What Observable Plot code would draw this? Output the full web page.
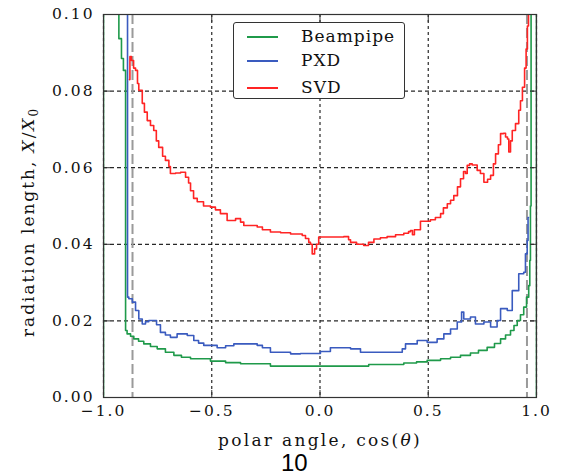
<!DOCTYPE html>
<html><head><meta charset="utf-8">
<script src="https://cdn.jsdelivr.net/npm/d3@7"></script>
<script src="https://cdn.jsdelivr.net/npm/@observablehq/plot@0.6"></script>
<style>
body{margin:0;background:#fff;}
#wrap{position:relative;width:565px;height:476px;overflow:hidden;}
#wrap svg{display:block;}
.caption{font-family:"Liberation Sans",Arial,sans-serif;font-size:24px;line-height:26px;height:26px;padding-left:281px;color:#000;}
.legend{position:absolute;left:233px;top:22px;width:170px;height:75px;border:1.5px solid #333;border-radius:3px;background:#fff;}
.legend .sw{position:absolute;left:13px;width:31px;height:0;border-top:2px solid;}
.legend .lb{position:absolute;left:67px;font-family:"DejaVu Serif","Liberation Serif",serif;font-size:17px;letter-spacing:1px;line-height:20px;color:#111;}
</style></head><body><div id="wrap"></div>
<script>
// ---- data ----
const seriesNames = ["Beampipe", "PXD", "SVD"];
const seriesColors = ["#1f9a4a", "#3a5bbf", "#ff2424"];

const beampipeX = [-1, -1, -0.929, -0.917, -0.908, -0.898, -0.891, -0.875, -0.860, -0.838, -0.814, -0.783, -0.752, -0.714, -0.675, -0.640, -0.598, -0.506, -0.436, -0.367, -0.229, 0.225, 0.387, 0.446, 0.495, 0.557, 0.603, 0.649, 0.695, 0.732, 0.772, 0.806, 0.834, 0.857, 0.880, 0.896, 0.911, 0.926, 0.941, 0.954, 0.964, 0.969, 0.972, 0.975, 1.0];
const beampipeY = [0, 0.3, 0.0937, 0.0885, 0.0854, 0.0175, 0.0166, 0.0160, 0.0153, 0.0147, 0.0140, 0.0133, 0.0127, 0.0118, 0.0110, 0.0105, 0.0101, 0.0095, 0.0091, 0.0088, 0.0082, 0.0086, 0.0090, 0.0093, 0.0097, 0.0101, 0.0105, 0.0110, 0.0116, 0.0123, 0.0131, 0.0141, 0.0153, 0.0163, 0.0175, 0.0188, 0.0201, 0.0216, 0.0236, 0.0262, 0.0292, 0.0358, 0.05, 0.3, 0];

const pxdX = [-0.893, -0.889, -0.883, -0.867, -0.852, -0.837, -0.821, -0.806, -0.791, -0.768, -0.755, -0.737, -0.714, -0.691, -0.660, -0.613, -0.583, -0.561, -0.537, -0.475, -0.436, -0.398, -0.290, -0.266, -0.229, -0.136, -0.090, 0.002, 0.048, 0.141, 0.187, 0.279, 0.380, 0.395, 0.449, 0.495, 0.541, 0.572, 0.603, 0.634, 0.654, 0.664, 0.695, 0.718, 0.757, 0.788, 0.818, 0.834, 0.865, 0.888, 0.911, 0.918, 0.941, 0.949, 0.957, 0.961, 0.963];
const pxdY = [0.3, 0.0262, 0.0258, 0.0249, 0.0227, 0.0205, 0.0192, 0.0198, 0.0201, 0.0201, 0.0190, 0.0170, 0.0163, 0.0157, 0.0166, 0.0162, 0.0149, 0.0142, 0.0136, 0.0130, 0.0135, 0.0140, 0.0136, 0.0130, 0.0118, 0.0114, 0.0115, 0.0120, 0.0130, 0.0127, 0.0118, 0.0118, 0.0127, 0.0140, 0.0149, 0.0144, 0.0153, 0.0166, 0.0179, 0.0197, 0.0223, 0.0205, 0.0210, 0.0192, 0.0197, 0.0184, 0.0201, 0.0232, 0.0227, 0.0279, 0.0279, 0.0323, 0.0327, 0.0375, 0.0410, 0.0470, 0.0470];

const svdX = [-0.880, -0.878, -0.871, -0.861, -0.852, -0.843, -0.837, -0.821, -0.811, -0.798, -0.783, -0.768, -0.756, -0.745, -0.727, -0.714, -0.698, -0.691, -0.667, -0.644, -0.621, -0.607, -0.598, -0.584, -0.567, -0.538, -0.506, -0.483, -0.460, -0.429, -0.390, -0.367, -0.352, -0.290, -0.266, -0.229, -0.182, -0.136, -0.082, -0.067, -0.052, -0.044, -0.036, -0.025, -0.016, -0.006, 0.048, 0.110, 0.132, 0.141, 0.169, 0.202, 0.224, 0.249, 0.279, 0.310, 0.349, 0.387, 0.409, 0.418, 0.427, 0.436, 0.464, 0.510, 0.533, 0.557, 0.570, 0.588, 0.603, 0.618, 0.635, 0.649, 0.663, 0.672, 0.680, 0.691, 0.703, 0.726, 0.741, 0.757, 0.774, 0.788, 0.801, 0.811, 0.824, 0.834, 0.848, 0.857, 0.866, 0.872, 0.880, 0.888, 0.903, 0.918, 0.926, 0.935, 0.945, 0.952, 0.958, 0.963];
const svdY = [0.0830, 0.0890, 0.0880, 0.0860, 0.0854, 0.0820, 0.0802, 0.0768, 0.0745, 0.0723, 0.0710, 0.0697, 0.0670, 0.0653, 0.0630, 0.0619, 0.0603, 0.0585, 0.0586, 0.0588, 0.0575, 0.0560, 0.0540, 0.0520, 0.0511, 0.0500, 0.0497, 0.0490, 0.0480, 0.0462, 0.0467, 0.0458, 0.0449, 0.0445, 0.0438, 0.0432, 0.0430, 0.0427, 0.0423, 0.0415, 0.0405, 0.0400, 0.0375, 0.0388, 0.0400, 0.0419, 0.0419, 0.0420, 0.0412, 0.0405, 0.0400, 0.0397, 0.0405, 0.0414, 0.0417, 0.0420, 0.0425, 0.0429, 0.0433, 0.0436, 0.0425, 0.0438, 0.0460, 0.0464, 0.0470, 0.0480, 0.0495, 0.0506, 0.0515, 0.0527, 0.0550, 0.0571, 0.0590, 0.0585, 0.0606, 0.0610, 0.0607, 0.0593, 0.0585, 0.0562, 0.0570, 0.0580, 0.0610, 0.0636, 0.0660, 0.0689, 0.0690, 0.0680, 0.0675, 0.0641, 0.0670, 0.0697, 0.0715, 0.0750, 0.0775, 0.0810, 0.0860, 0.0910, 0.0970, 0.1200];

const acceptanceCuts = [-0.866, 0.956];
const xTicks = [-1, -0.5, 0, 0.5, 1];
const xTickLabels = ["\u22121.0", "\u22120.5", "0.0", "0.5", "1.0"];
const yTicks = [0, 0.02, 0.04, 0.06, 0.08, 0.10];
const yTickLabels = ["0.00", "0.02", "0.04", "0.06", "0.08", "0.10"];
const xLabel = "polar angle, cos(\u03b8)";
const yLabel = "radiation length, X/X0";
const captionText = "10";

// ---- build table ----
const seriesXs = [beampipeX, pxdX, svdX];
const seriesYs = [beampipeY, pxdY, svdY];
const rows = [];
seriesNames.forEach((name, i) => {
  seriesXs[i].forEach((x, j) => rows.push({series: name, x, y: seriesYs[i][j]}));
});

const serif = "'DejaVu Serif', 'Liberation Serif', serif";
const fmtX = d => xTickLabels[xTicks.indexOf(d)];
const fmtY = d => yTickLabels[yTicks.findIndex(t => Math.abs(t - d) < 1e-9)];

const plot = Plot.plot({
  width: 565,
  height: 450,
  marginTop: 14,
  marginBottom: 53,
  marginLeft: 103,
  marginRight: 29,
  style: {fontFamily: serif, fontSize: "15px", background: "#fff", color: "#111", overflow: "visible"},
  x: {domain: [-1, 1]},
  y: {domain: [0, 0.1]},
  color: {domain: seriesNames, range: seriesColors},
  marks: [
    Plot.gridX(xTicks, {stroke: "#111", strokeOpacity: 0.9, strokeWidth: 1.2, strokeDasharray: "3,3"}),
    Plot.gridY(yTicks, {stroke: "#111", strokeOpacity: 0.9, strokeWidth: 1.2, strokeDasharray: "4,3"}),
    Plot.ruleX(acceptanceCuts, {stroke: "#9a9a9a", strokeWidth: 2, strokeDasharray: "10,4"}),
    Plot.line(rows, {x: "x", y: "y", z: "series", stroke: "series", strokeWidth: 1.6, curve: "step-after", clip: true}),
    Plot.frame({stroke: "#333", strokeWidth: 1.2}),
    Plot.axisX(xTicks, {anchor: "bottom", tickSize: -7, tickFormat: () => "", label: null, stroke: "#333"}),
    Plot.axisX(xTicks, {anchor: "top", tickSize: -7, tickFormat: () => "", label: null, stroke: "#333"}),
    Plot.axisY(yTicks, {anchor: "left", tickSize: -7, tickFormat: () => "", label: null, stroke: "#333"}),
    Plot.axisY(yTicks, {anchor: "right", tickSize: -7, tickFormat: () => "", label: null, stroke: "#333"}),
    Plot.axisX(xTicks, {anchor: "bottom", tickSize: 0, tickPadding: 7, tickFormat: fmtX, label: null, fontSize: 15.5}),
    Plot.axisY(yTicks, {anchor: "left", tickSize: 0, tickPadding: 9, tickFormat: fmtY, label: null, fontSize: 15.5}),
    Plot.text([xLabel], {frameAnchor: "bottom", dy: 43, text: d => d, fontSize: 17, textAnchor: "middle", lineAnchor: "middle", fill: "#111"}),
    Plot.text([yLabel], {frameAnchor: "left", dx: -75, rotate: -90, text: d => d, fontSize: 17, textAnchor: "middle", lineAnchor: "middle", fill: "#111"})
  ]
});

// spaced-out serif text like the reference, italics for math parts of labels
let xLabelNode = null, yLabelNode = null;
d3.select(plot).selectAll("text").each(function() {
  const t = this.textContent;
  const s = d3.select(this);
  s.style("letter-spacing", "2px").style("font-family", serif);
  if (t === xLabel) {
    xLabelNode = this;
    s.text("");
    s.append("tspan").text("polar angle, cos(");
    s.append("tspan").attr("font-style", "italic").text("\u03b8");
    s.append("tspan").text(")");
  } else if (t === yLabel) {
    yLabelNode = this;
    s.text("");
    s.append("tspan").text("radiation length, ");
    s.append("tspan").attr("font-style", "italic").text("X");
    s.append("tspan").text("/");
    s.append("tspan").attr("font-style", "italic").text("X");
    s.append("tspan").attr("font-size", "12px").attr("dy", "4").text("0");
  }
});

const wrap = document.getElementById("wrap");
wrap.appendChild(plot);

// fit axis titles to the extent they have in the reference (x: 218–422, y: 107–337)
function fitLabel(node, nChars, targetLen, horizontal) {
  if (!node) return;
  let r = node.getBoundingClientRect();
  let len = horizontal ? r.width : r.height;
  const s = 2 + (targetLen - len) / nChars;
  node.style.letterSpacing = s + "px";
}
fitLabel(xLabelNode, 19, 204, true);
fitLabel(yLabelNode, 22, 230, false);
if (yLabelNode) {
  const wr = wrap.getBoundingClientRect();
  const r = yLabelNode.getBoundingClientRect();
  const cy = r.top + r.height / 2 - wr.top;
  const shift = 222 - cy;
  const tr = yLabelNode.getAttribute("transform") || "";
  yLabelNode.setAttribute("transform", tr + ` translate(${-shift},0)`);
}

const cap = document.createElement("div");
cap.className = "caption";
cap.textContent = captionText;
wrap.appendChild(cap);

// legend
const legend = document.createElement("div");
legend.className = "legend";
const rowTops = [13, 37, 64];
seriesNames.forEach((name, i) => {
  const sw = document.createElement("div");
  sw.className = "sw";
  sw.style.top = rowTops[i] + "px";
  sw.style.borderTopColor = seriesColors[i];
  legend.appendChild(sw);
  const lb = document.createElement("div");
  lb.className = "lb";
  lb.style.top = (rowTops[i] - 10) + "px";
  lb.textContent = name;
  legend.appendChild(lb);
});
wrap.appendChild(legend);
</script>
</body></html>
